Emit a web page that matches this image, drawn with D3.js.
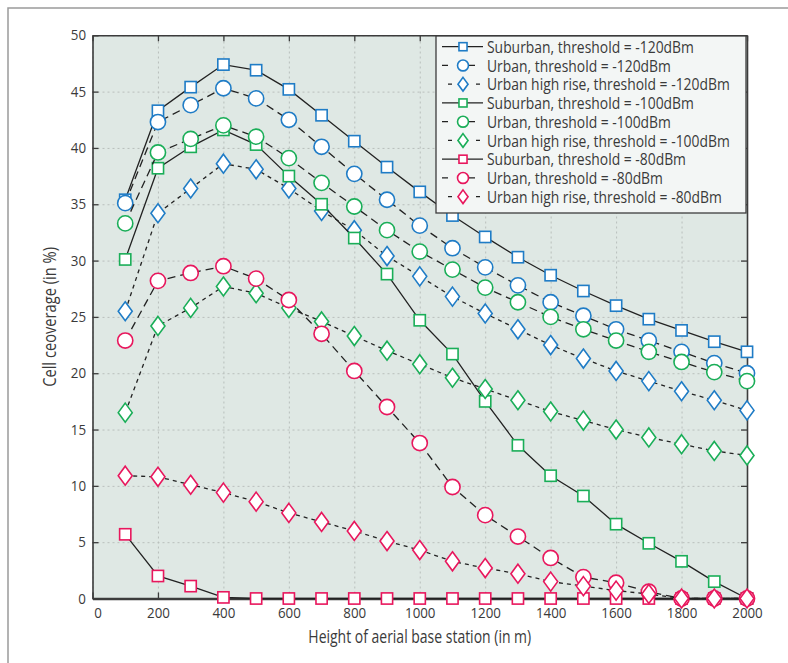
<html>

<head>
    <script src="https://d3js.org/d3.v7.min.js"></script>
    <style>
        body { margin: 0; background: white; }
        text { font-family: "Open Sans", sans-serif; fill: #3a3a3a; }
    </style>
</head>

<body>
    <svg id="chart_svg" height="663" width="788"></svg>
    <script>
        // base station heights (m)
        const heights = [100, 200, 300, 400, 500, 600, 700, 800, 900, 1000,
            1100, 1200, 1300, 1400, 1500, 1600, 1700, 1800, 1900, 2000];

        const xTicks = [0, 200, 400, 600, 800, 1000, 1200, 1400, 1600, 1800, 2000];
        const yTicks = [0, 5, 10, 15, 20, 25, 30, 35, 40, 45, 50];

        const seriesNames = [
            "Suburban, threshold = -120dBm",
            "Urban, threshold = -120dBm",
            "Urban high rise, threshold = -120dBm",
            "Suburban, threshold = -100dBm",
            "Urban, threshold = -100dBm",
            "Urban high rise, threshold = -100dBm",
            "Suburban, threshold = -80dBm",
            "Urban, threshold = -80dBm",
            "Urban high rise, threshold = -80dBm"
        ];

        const suburban120 = [35.4, 43.3, 45.4, 47.4, 46.9, 45.2, 42.9, 40.6, 38.3, 36.1, 34.0, 32.1, 30.3, 28.7, 27.3, 26.0, 24.8, 23.8, 22.8, 21.9];
        const urban120 = [35.1, 42.3, 43.8, 45.3, 44.4, 42.5, 40.1, 37.7, 35.4, 33.1, 31.1, 29.4, 27.8, 26.3, 25.1, 23.9, 22.9, 21.9, 20.9, 20.0];
        const highRise120 = [25.5, 34.2, 36.4, 38.6, 38.1, 36.4, 34.4, 32.7, 30.4, 28.6, 26.8, 25.3, 23.9, 22.5, 21.3, 20.2, 19.3, 18.4, 17.6, 16.7];
        const suburban100 = [30.1, 38.2, 40.1, 41.6, 40.3, 37.5, 35.0, 32.0, 28.8, 24.7, 21.7, 17.5, 13.6, 10.9, 9.1, 6.6, 4.9, 3.3, 1.5, 0.0];
        const urban100 = [33.3, 39.6, 40.8, 42.0, 41.0, 39.1, 36.9, 34.8, 32.7, 30.8, 29.2, 27.6, 26.3, 25.0, 23.9, 22.9, 21.9, 21.0, 20.1, 19.3];
        const highRise100 = [16.5, 24.2, 25.8, 27.7, 27.1, 25.8, 24.6, 23.3, 22.0, 20.8, 19.6, 18.6, 17.6, 16.6, 15.8, 15.0, 14.3, 13.7, 13.1, 12.7];
        const suburban80 = [5.7, 2.0, 1.1, 0.1, 0.0, 0.0, 0.0, 0.0, 0.0, 0.0, 0.0, 0.0, 0.0, 0.0, 0.0, 0.0, 0.0, 0.0, 0.0, 0.0];
        const urban80 = [22.9, 28.2, 28.9, 29.5, 28.4, 26.5, 23.5, 20.2, 17.0, 13.8, 9.9, 7.4, 5.5, 3.6, 1.9, 1.4, 0.6, 0.0, 0.0, 0.0];
        const highRise80 = [10.9, 10.8, 10.1, 9.4, 8.6, 7.6, 6.8, 6.0, 5.1, 4.3, 3.3, 2.7, 2.2, 1.5, 1.1, 0.7, 0.4, 0.0, 0.0, 0.0];

        const seriesValues = [suburban120, urban120, highRise120, suburban100, urban100, highRise100, suburban80, urban80, highRise80];

        const blue = "#1f7cc6", green = "#1aae58", pink = "#e8175d";
        const colors = [blue, blue, blue, green, green, green, pink, pink, pink];
        const shapes = ["square", "circle", "diamond", "square", "circle", "diamond", "square", "circle", "diamond"];
        const dashes = ["none", "8,5", "4,4", "none", "8,5", "4,4", "none", "8,5", "4,4"];

        const svg = d3.select("#chart_svg");
        const margins = { "top": 35.3, "left": 92.5, "right": 41, "bottom": 64.5 };
        const width = 788, height = 663;
        const chartWidth = width - margins.left - margins.right;
        const chartHeight = height - margins.top - margins.bottom;

        // squeeze a text horizontally (the original face is a condensed one)
        function condense(sel, factor, extra) {
            sel.each(function () {
                let t = d3.select(this);
                let x = +(t.attr("x") || 0), y = +(t.attr("y") || 0);
                t.attr("x", 0).attr("y", 0)
                    .attr("transform", "translate(" + x + "," + y + ")" + (extra || "") + " scale(" + factor + ",1)");
            });
        }

        // outer frame (cropped on right and bottom)
        svg.append("rect")
            .attr("x", 8).attr("y", 8)
            .attr("width", 820).attr("height", 700)
            .attr("fill", "none")
            .attr("stroke", "#9a9a9a")
            .attr("stroke-width", 1.5);

        const xScale = d3.scaleLinear().domain([0, 2000]).range([0, chartWidth]);
        const yScale = d3.scaleLinear().domain([0, 50]).range([chartHeight, 0]);

        let plot = svg.append("g")
            .attr("transform", "translate(" + margins.left + "," + margins.top + ")");

        plot.append("rect")
            .attr("width", chartWidth)
            .attr("height", chartHeight)
            .attr("fill", "#dfe8e4");

        // gridlines
        let vGrid = d3.axisBottom(xScale).tickValues(xTicks).tickSize(-chartHeight).tickFormat("");
        plot.append("g")
            .attr("class", "gridlines")
            .attr("transform", "translate(0," + chartHeight + ")")
            .call(vGrid);
        let hGrid = d3.axisLeft(yScale).tickValues(yTicks).tickSize(-chartWidth).tickFormat("");
        plot.append("g")
            .attr("class", "gridlines")
            .call(hGrid);
        plot.selectAll(".gridlines .domain").remove();
        plot.selectAll(".gridlines line")
            .attr("stroke", "#b9bfbc")
            .attr("stroke-width", 1)
            .attr("stroke-dasharray", "2,3");

        // axes with inward ticks
        let bottomAxis = d3.axisBottom(xScale).tickValues(xTicks).tickFormat(d3.format("d"))
            .tickSizeInner(-6).tickSizeOuter(0).tickPadding(9);
        let bottomG = plot.append("g")
            .attr("transform", "translate(0," + chartHeight + ")")
            .call(bottomAxis);
        let leftAxis = d3.axisLeft(yScale).tickValues(yTicks).tickFormat(d3.format("d"))
            .tickSizeInner(-6).tickSizeOuter(0).tickPadding(6.5);
        let leftG = plot.append("g").call(leftAxis);
        let topAxis = d3.axisTop(xScale).tickValues(xTicks).tickSizeInner(-6).tickSizeOuter(0).tickFormat("");
        let topG = plot.append("g").call(topAxis);
        let rightAxis = d3.axisRight(yScale).tickValues(yTicks).tickSizeInner(-6).tickSizeOuter(0).tickFormat("");
        let rightG = plot.append("g").attr("transform", "translate(" + chartWidth + ",0)").call(rightAxis);

        [bottomG, leftG, topG, rightG].forEach((g) => {
            g.select(".domain").attr("stroke", "#3c3c3c").attr("stroke-width", 1.6);
            g.selectAll(".tick line").attr("stroke", "#3c3c3c").attr("stroke-width", 1.3);
            g.selectAll(".tick text").attr("font-size", 14.5).attr("fill", "#3a3a3a")
                .style("font-family", "'Open Sans', sans-serif");
        });
        bottomG.select(".domain").attr("stroke-width", 2.4);
        // the "0" label sits a little right of the corner in the original
        bottomG.selectAll(".tick text").filter(d => d == 0).attr("x", 5);
        condense(bottomG.selectAll(".tick text"), 0.92);
        condense(leftG.selectAll(".tick text"), 0.92);

        function drawMarker(g, shape, cx, cy, color, s) {
            if (shape == "square") {
                g.append("rect")
                    .attr("x", cx - 5.6 * s).attr("y", cy - 5.6 * s)
                    .attr("width", 11.2 * s).attr("height", 11.2 * s)
                    .attr("fill", "white").attr("stroke", color).attr("stroke-width", 1.6);
            } else if (shape == "circle") {
                g.append("circle")
                    .attr("cx", cx).attr("cy", cy).attr("r", 7.6 * s)
                    .attr("fill", "white").attr("stroke", color).attr("stroke-width", 1.6);
            } else {
                let w = 7 * s, h = 9.5 * s;
                g.append("path")
                    .attr("d", "M" + cx + "," + (cy - h) + "L" + (cx + w) + "," + cy + "L" + cx + "," + (cy + h) + "L" + (cx - w) + "," + cy + "Z")
                    .attr("fill", "white").attr("stroke", color).attr("stroke-width", 1.6);
            }
        }

        const line = d3.line()
            .x((d, i) => xScale(heights[i]))
            .y(d => yScale(d));

        seriesValues.forEach((values, k) => {
            let g = plot.append("g");
            g.append("path")
                .attr("d", line(values))
                .attr("fill", "none")
                .attr("stroke", "#222")
                .attr("stroke-width", 1.3)
                .attr("stroke-dasharray", dashes[k]);
            values.forEach((v, i) => {
                drawMarker(g, shapes[k], xScale(heights[i]), yScale(v), colors[k], 1);
            });
        });

        // legend
        const legendX = 436 - margins.left, legendY = 36 - margins.top;
        let legend = plot.append("g").attr("transform", "translate(" + legendX + "," + legendY + ")");
        legend.append("rect")
            .attr("width", 310).attr("height", 177)
            .attr("fill", "#f3f6f5")
            .attr("stroke", "#3c3c3c")
            .attr("stroke-width", 1.3);
        seriesNames.forEach((name, k) => {
            let ly = 10.7 + k * 18.75;
            legend.append("line")
                .attr("x1", 6).attr("x2", 47)
                .attr("y1", ly).attr("y2", ly)
                .attr("stroke", "#222").attr("stroke-width", 1.3)
                .attr("stroke-dasharray", dashes[k] == "none" ? "none" : (dashes[k] == "8,5" ? "6,21" : "4,24"))
                .attr("stroke-dashoffset", dashes[k] == "4,4" ? -6 : 0);
            drawMarker(legend, shapes[k], 27, ly, colors[k], 0.72);
            legend.append("text")
                .attr("class", "legend-text")
                .attr("x", 51).attr("y", ly)
                .attr("dy", "0.36em")
                .attr("font-size", 17)
                .text(name);
        });
        let legendTexts = legend.selectAll(".legend-text");
        let firstLen = legendTexts.node().getComputedTextLength();
        condense(legendTexts, 207 / firstLen);

        // axis titles
        let xTitle = svg.append("text")
            .attr("text-anchor", "middle")
            .attr("x", margins.left + chartWidth / 2)
            .attr("y", 643)
            .attr("font-size", 17.5)
            .text("Height of aerial base station (in m)");
        condense(xTitle, 223 / xTitle.node().getComputedTextLength());

        let yTitle = svg.append("text")
            .attr("text-anchor", "middle")
            .attr("x", 55.5)
            .attr("y", margins.top + chartHeight / 2)
            .attr("font-size", 17.5)
            .text("Cell ceoverage (in %)");
        condense(yTitle, 140 / yTitle.node().getComputedTextLength(), " rotate(-90)");
    </script>

</body>

</html>
